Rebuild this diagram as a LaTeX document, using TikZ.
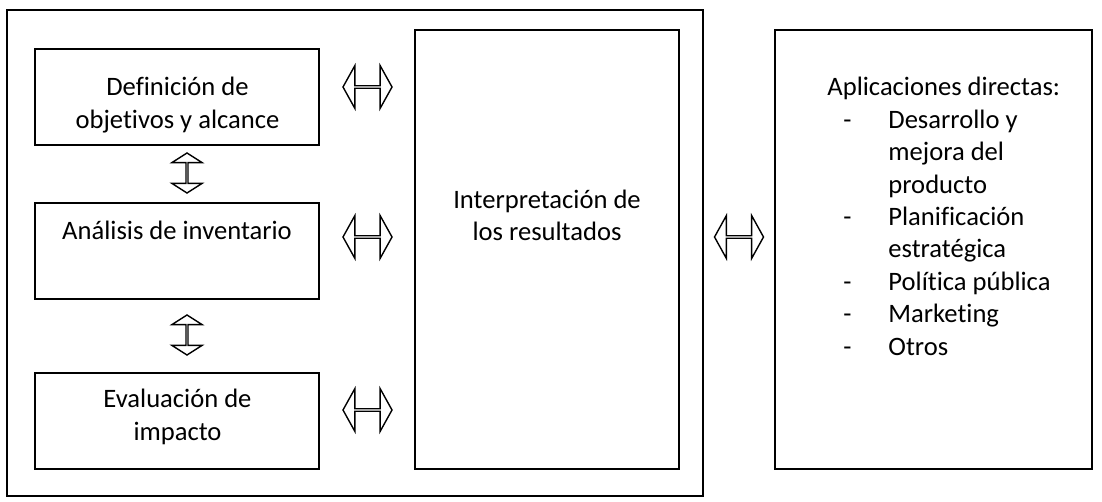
\documentclass[tikz,border=0pt]{standalone}
\usepackage{fontspec}
\setmainfont{Carlito}[Ligatures=NoCommon]
\usetikzlibrary{shapes.arrows,positioning,calc}

\tikzset{
  caja/.style={draw, line width=0.8pt},
  flechah/.style={double arrow, draw, line width=0.7pt, inner sep=0pt,
    minimum width=21.5pt, minimum height=24.5pt,
    double arrow head extend=5.75pt, double arrow tip angle=122},
  flechav/.style={flechah, shape border rotate=90, minimum width=15pt,
    minimum height=20pt, double arrow head extend=5pt, double arrow tip angle=115},
  texto/.style={font=\fontsize{13.3}{16.2}\selectfont, inner sep=0pt, align=center, anchor=base}
}

\begin{document}
\begin{tikzpicture}[x=0.5pt, y=-0.5pt]
	\useasboundingbox (0,0) rectangle (1102,502);
	% marcos
	\draw[caja] (7,10) rectangle (703,496);
	\draw[caja] (35,49) rectangle (319,145);
	\draw[caja] (35,203) rectangle (319,299);
	\draw[caja] (35,373) rectangle (319,469);
	\draw[caja] (415,30) rectangle (679,469);
	\draw[caja] (775,30) rectangle (1092,469);
	% textos (base = ultima linea)
	\node[texto] (def) at (177.5,128.4) {Definición de\\objetivos y alcance};
	\node[texto] (ana) at (177,240) {Análisis de inventario};
	\node[texto] (eva) at (177.5,440) {Evaluación de\\impacto};
	\node[texto] (inter) at (547,241) {Interpretación de\\los resultados};
	\node[texto, anchor=base west] (apl) at (843,96) {\begin{tabular}[t]{@{}p{22.5pt}@{}l@{}}
		\multicolumn{2}{@{}l@{}}{\hspace*{-8pt}Aplicaciones directas:}\\
		- & Desarrollo y\\
		  & mejora del\\
		  & producto\\
		- & Planificación\\
		  & estratégica\\
		- & Política pública\\
		- & Marketing\\
		- & Otros
	\end{tabular}};
	% flechas dobles
	\node[flechah] (fdef) at (367.5,87) {};
	\node[flechah] (fana) at (367.5,237) {};
	\node[flechah] (feva) at (367.5,410) {};
	\node[flechah] (fapl) at (739,237) {};
	\node[flechav] (fv1) at (187,173) {};
	\node[flechav] (fv2) at (187,335) {};
\end{tikzpicture}
\end{document}
